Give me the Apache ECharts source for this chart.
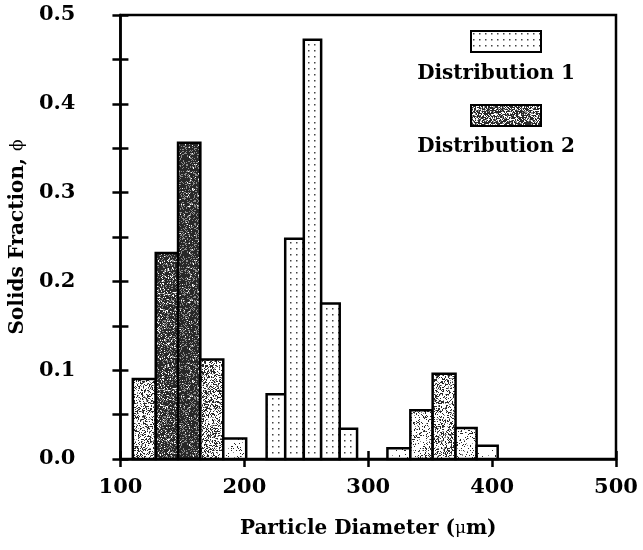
<!DOCTYPE html>
<html>
<head>
<meta charset="utf-8">
<script src="https://cdn.jsdelivr.net/npm/echarts@6/dist/echarts.min.js"></script>
<style>
  html, body { margin: 0; padding: 0; background: #fff; }
  #main { width: 643px; height: 550px; }
</style>
</head>
<body>
<div id="main"></div>
<script>
// bin edges (µm) and solids fractions
var dist1Lo = [218, 233, 248, 262, 277];
var dist1Hi = [233, 248, 262, 277, 291];
var dist1Values = [0.073, 0.248, 0.472, 0.175, 0.034];

var dist2Lo = [110, 128.5, 146.5, 164.5, 183, 315.5, 334, 352, 370.5, 387.5];
var dist2Hi = [128.5, 146.5, 164.5, 183, 201.5, 334, 352, 370.5, 387.5, 404.5];
var dist2Values = [0.090, 0.232, 0.356, 0.112, 0.023, 0.012, 0.055, 0.096, 0.035, 0.015];

var seriesNames = ['Distribution 1', 'Distribution 2'];

var FONT = 'DejaVu Serif';

// dotted fill for distribution 1
function makeDots() {
  var c = document.createElement('canvas');
  c.width = 6; c.height = 6;
  var ctx = c.getContext('2d');
  ctx.fillStyle = '#fff';
  ctx.fillRect(0, 0, 6, 6);
  ctx.fillStyle = '#444';
  ctx.fillRect(2, 2, 1.5, 1.5);
  return c;
}

// grainy grey fill for distribution 2, darker for taller bars
var speckleCache = {};
function makeSpeckle(density) {
  var key = density.toFixed(2);
  if (speckleCache[key]) return speckleCache[key];
  var n = 96;
  var c = document.createElement('canvas');
  c.width = n; c.height = n;
  var ctx = c.getContext('2d');
  var img = ctx.createImageData(n, n);
  var s = 1234567;
  function rnd() {
    s = (s + 0x6D2B79F5) | 0;
    var t = Math.imul(s ^ (s >>> 15), 1 | s);
    t = (t + Math.imul(t ^ (t >>> 7), 61 | t)) ^ t;
    return ((t ^ (t >>> 14)) >>> 0) / 4294967296;
  }
  for (var i = 0; i < n * n; i++) {
    var r = rnd();
    var g = r < density ? 40 : (r < density * 1.3 ? 140 : 255);
    img.data[i * 4] = g;
    img.data[i * 4 + 1] = g;
    img.data[i * 4 + 2] = g;
    img.data[i * 4 + 3] = 255;
  }
  ctx.putImageData(img, 0, 0);
  speckleCache[key] = c;
  return c;
}

var dotCanvas = makeDots();

function barData(lo, hi, vals) {
  return vals.map(function (v, i) { return [lo[i], hi[i], v]; });
}

function renderer(kind) {
  return function (params, api) {
    var top = api.coord([api.value(0), api.value(2)]);
    var bot = api.coord([api.value(1), 0]);
    var fill;
    if (kind === 1) {
      fill = { image: dotCanvas, repeat: 'repeat' };
    } else {
      var d = Math.min(0.75, 3 * api.value(2));
      fill = { image: makeSpeckle(d), repeat: 'repeat' };
    }
    return {
      type: 'rect',
      shape: { x: top[0], y: top[1], width: bot[0] - top[0], height: bot[1] - top[1] },
      style: { fill: fill, stroke: '#000', lineWidth: 2.5 }
    };
  };
}

var chart = echarts.init(document.getElementById('main'));

var labelStyle = { color: '#000', fontFamily: FONT, fontWeight: 'bold', fontSize: 21 };
var nameStyle = {
  color: '#000', fontFamily: FONT, fontWeight: 'bold', fontSize: 20,
  rich: {
    g: { color: '#000', fontFamily: FONT, fontWeight: 'normal', fontSize: 17 }
  }
};

var option = {
  backgroundColor: '#fff',
  animation: false,
  grid: {
    left: 120, right: 27, top: 15, bottom: 91,
    show: true, borderColor: '#000', borderWidth: 2.5, backgroundColor: 'transparent'
  },
  xAxis: [
    {
      type: 'value', min: 100, max: 500, interval: 100, position: 'bottom',
      name: 'Particle Diameter ({g|μ}m)', nameLocation: 'middle', nameGap: 60,
      nameTextStyle: nameStyle,
      axisLine: { onZero: false, lineStyle: { color: '#000', width: 2.5 } },
      axisTick: { length: 8, lineStyle: { color: '#000', width: 2.5 } },
      axisLabel: Object.assign({ margin: 18 }, labelStyle),
      splitLine: { show: false }
    },
    {
      type: 'value', min: 100, max: 500, interval: 100, position: 'bottom', offset: 0,
      axisLine: { show: false },
      axisTick: { inside: true, length: 8, lineStyle: { color: '#000', width: 2.5 } },
      axisLabel: { show: false },
      splitLine: { show: false }
    }
  ],
  yAxis: [
    {
      type: 'value', min: 0, max: 0.5, interval: 0.05, position: 'left',
      name: 'Solids Fraction, {g|ϕ}', nameLocation: 'middle', nameGap: 82,
      nameTextStyle: nameStyle,
      axisLine: { onZero: false, lineStyle: { color: '#000', width: 2.5 } },
      axisTick: { length: 8, lineStyle: { color: '#000', width: 2.5 } },
      axisLabel: Object.assign({
        margin: 45,
        formatter: function (v) {
          return Math.round(v * 100) % 10 === 0 ? v.toFixed(1) : '';
        }
      }, labelStyle),
      splitLine: { show: false }
    },
    {
      type: 'value', min: 0, max: 0.5, interval: 0.05, position: 'left', offset: 0,
      axisLine: { show: false },
      axisTick: { inside: true, length: 8, lineStyle: { color: '#000', width: 2.5 } },
      axisLabel: { show: false },
      splitLine: { show: false }
    }
  ],
  graphic: [
    {
      type: 'rect', left: 470, top: 30,
      shape: { width: 70, height: 21 },
      style: { fill: { image: dotCanvas, repeat: 'repeat' }, stroke: '#000', lineWidth: 2 }
    },
    {
      type: 'text', x: 496, y: 74,
      style: { text: seriesNames[0], fill: '#000', font: 'bold 20px "' + FONT + '"', align: 'center', verticalAlign: 'middle' }
    },
    {
      type: 'rect', left: 470, top: 104,
      shape: { width: 70, height: 21 },
      style: { fill: { image: makeSpeckle(0.55), repeat: 'repeat' }, stroke: '#000', lineWidth: 2 }
    },
    {
      type: 'text', x: 496, y: 147,
      style: { text: seriesNames[1], fill: '#000', font: 'bold 20px "' + FONT + '"', align: 'center', verticalAlign: 'middle' }
    }
  ],
  series: [
    {
      name: seriesNames[0], type: 'custom', xAxisIndex: 0, yAxisIndex: 0,
      renderItem: renderer(1),
      encode: { x: [0, 1], y: 2 },
      data: barData(dist1Lo, dist1Hi, dist1Values)
    },
    {
      name: seriesNames[1], type: 'custom', xAxisIndex: 0, yAxisIndex: 0,
      renderItem: renderer(2),
      encode: { x: [0, 1], y: 2 },
      data: barData(dist2Lo, dist2Hi, dist2Values)
    }
  ]
};

chart.setOption(option);
</script>
</body>
</html>
